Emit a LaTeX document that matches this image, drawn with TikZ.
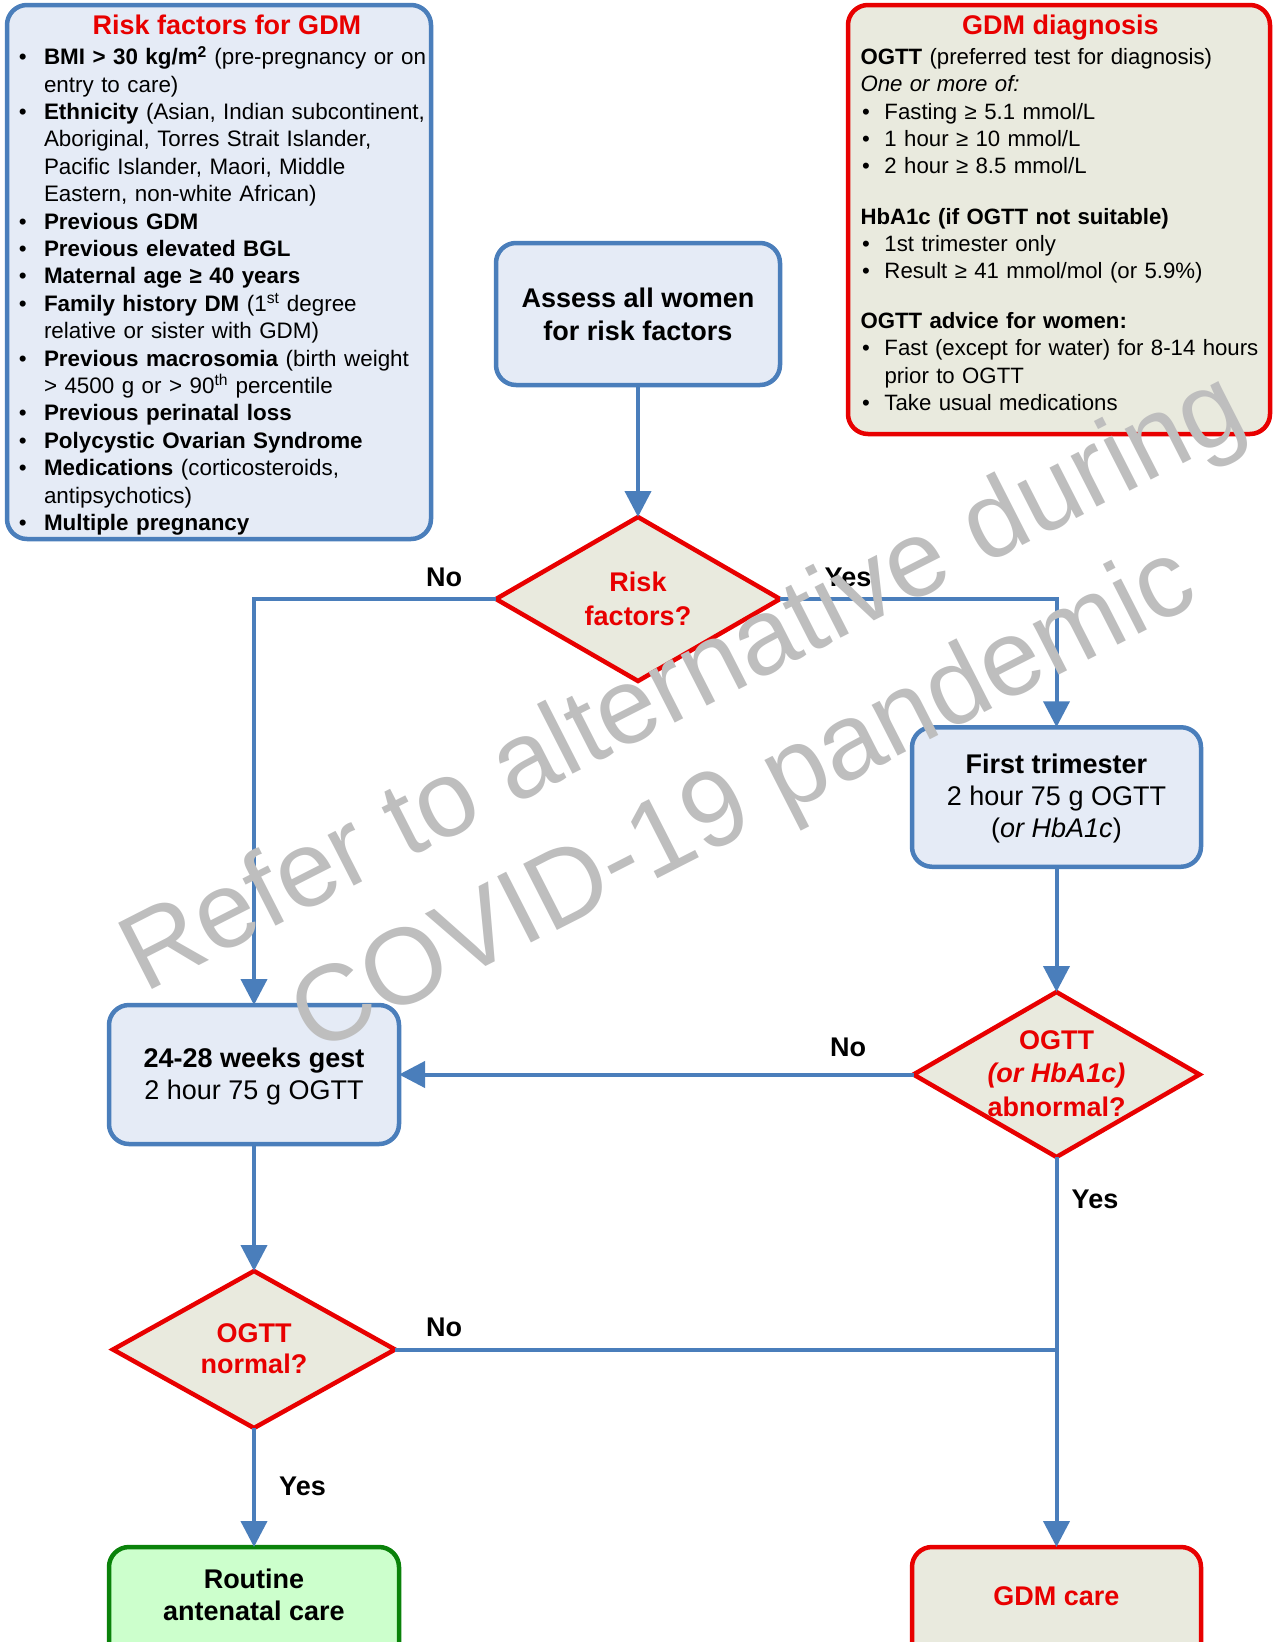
\documentclass[tikz,border=0pt]{standalone}
\usepackage{fontspec}
\setmainfont{Liberation Sans}
\usetikzlibrary{shapes.geometric,arrows.meta}
\definecolor{bblue}{RGB}{74,126,187}
\definecolor{lblue}{RGB}{229,235,246}
\definecolor{rred}{RGB}{232,0,0}
\definecolor{beige}{RGB}{233,234,222}
\definecolor{ggreen}{RGB}{10,130,10}
\definecolor{lgreen}{RGB}{204,255,204}
\definecolor{wmgray}{RGB}{190,190,190}
\newcommand\ctrlines[1]{\vtop{\halign{\hfil##\hfil\cr#1\crcr}}}
\newcommand\bul[2]{\hangindent=#1\hangafter=1\noindent\makebox[#1][l]{\hspace{#2}\textbullet}}
\begin{document}
\begin{tikzpicture}[x=1pt,y=-1pt,
  every node/.style={inner sep=0pt,outer sep=0pt},
  bbox/.style={draw=bblue,fill=lblue,line width=4.5pt,rounded corners=20pt},
  rbox/.style={draw=rred,fill=beige,line width=4.5pt,rounded corners=20pt},
  gbox/.style={draw=ggreen,fill=lgreen,line width=4.5pt,rounded corners=20pt},
  dmd/.style={diamond,draw=rred,fill=beige,line width=4.5pt},
  conn/.style={draw=bblue,line width=4pt},
  arr/.style={conn,-{Triangle[length=26pt,width=26pt]}},
  btxt/.style={anchor=base,font=\fontsize{27}{32.5}\selectfont},
  dtxt/.style={anchor=base,text=rred,font=\fontsize{27}{33.5}\selectfont\bfseries},
  lbl/.style={anchor=base,font=\fontsize{27}{32}\selectfont\bfseries},
  ttl/.style={anchor=base,text=rred,font=\fontsize{27}{32}\selectfont\bfseries},
  list/.style={anchor=base west,text width=440pt,align=left,font=\fontsize{22.4}{27.4}\selectfont},
  wm/.style={anchor=base,rotate=27,text=wmgray,font=\fontsize{108}{130}\selectfont}
]
\useasboundingbox (0,0) rectangle (1274,1642);
\clip (0,0) rectangle (1274,1642);

% boxes
\node[bbox,minimum width=424pt,minimum height=534pt] (riskbox) at (219,272) {};
\node[rbox,minimum width=422pt,minimum height=429pt] (diagbox) at (1059,219.5) {};
\node[bbox,minimum width=284pt,minimum height=142pt] (assess) at (638,314) {};
\node[bbox,minimum width=289pt,minimum height=139.5pt] (first) at (1056.5,797) {};
\node[bbox,minimum width=290pt,minimum height=139pt] (wk) at (254,1074.5) {};
\node[gbox,minimum width=290pt,minimum height=143pt] (routine) at (254,1618.5) {};
\node[rbox,minimum width=289pt,minimum height=143pt] (gdmcare) at (1056.5,1618.5) {};

% diamonds
\node[dmd,minimum width=284pt,minimum height=164pt] (risk) at (638,599) {};
\node[dmd,minimum width=286pt,minimum height=165pt] (abn) at (1056.5,1074.5) {};
\node[dmd,minimum width=282pt,minimum height=157pt] (norm) at (254,1349.5) {};

% connectors
\draw[arr] (assess.south) -- (risk.north);
\draw[arr] (risk.west) -| (wk.north);
\draw[arr] (risk.east) -| (first.north);
\draw[arr] (first.south) -- (abn.north);
\draw[arr] (abn.west) -- (wk.east);
\draw[arr] (abn.south) -- (gdmcare.north);
\coordinate (join) at (abn.south |- norm.east);
\draw[conn] (norm.east) -- (join);
\draw[arr] (wk.south) -- (norm.north);
\draw[arr] (norm.south) -- (routine.north);

% labels
\node[lbl] (l1) at (444,586.7) {No};
\node[lbl] (l2) at (848,586.7) {Yes};
\node[lbl] (l3) at (848,1056.7) {No};
\node[lbl] (l4) at (1095,1208.7) {Yes};
\node[lbl] (l5) at (444,1336.7) {No};
\node[lbl] (l6) at (302.5,1495.2) {Yes};

% box texts
\node[btxt,font=\fontsize{27}{33}\selectfont\bfseries] (assess-t) at (638,307) {\ctrlines{Assess all women\cr for risk factors}};
\node[btxt,font=\fontsize{27}{32}\selectfont] (first-t) at (1056.5,773.7) {\ctrlines{\textbf{First trimester}\cr 2 hour 75 g OGTT\cr (\textit{or HbA1c})}};
\node[btxt] (wk-t) at (254,1067) {\ctrlines{\textbf{24-28 weeks gest}\cr 2 hour 75 g OGTT}};
\node[btxt,font=\fontsize{27}{32.5}\selectfont\bfseries] (routine-t) at (254,1588) {\ctrlines{Routine\cr antenatal care}};
\node[dtxt] (gdmcare-t) at (1056.5,1605) {GDM care};
\node[dtxt] (risk-t) at (638,591.5) {\ctrlines{Risk\cr factors?}};
\node[dtxt] (abn-t) at (1056.5,1049) {\ctrlines{OGTT\cr \textit{(or HbA1c)}\cr abnormal?}};
\node[dtxt,font=\fontsize{27}{31.5}\selectfont\bfseries] (norm-t) at (254,1342) {\ctrlines{OGTT\cr normal?}};

% titles
\node[ttl] (riskbox-t) at (227,34.8) {Risk factors for GDM};
\node[ttl] (diagbox-t) at (1060.4,34.8) {GDM diagnosis};

% lists
\node[list] (risklist) at (19,64.6) {%
\bul{25pt}{0pt}\textbf{BMI > 30 kg/m\textsuperscript{2}} (pre-pregnancy or on\newline entry to care)\par
\bul{25pt}{0pt}\textbf{Ethnicity} (Asian, Indian subcontinent,\newline Aboriginal, Torres Strait Islander,\newline Pacific Islander, Maori, Middle\newline Eastern, non-white African)\par
\bul{25pt}{0pt}\textbf{Previous GDM}\par
\bul{25pt}{0pt}\textbf{Previous elevated BGL}\par
\bul{25pt}{0pt}\textbf{Maternal age ≥ 40 years}\par
\bul{25pt}{0pt}\textbf{Family history DM} (1\textsuperscript{st} degree\newline relative or sister with GDM)\par
\bul{25pt}{0pt}\textbf{Previous macrosomia} (birth weight\newline > 4500 g or > 90\textsuperscript{th} percentile\par
\bul{25pt}{0pt}\textbf{Previous perinatal loss}\par
\bul{25pt}{0pt}\textbf{Polycystic Ovarian Syndrome}\par
\bul{25pt}{0pt}\textbf{Medications} (corticosteroids,\newline antipsychotics)\par
\bul{25pt}{0pt}\textbf{Multiple pregnancy}\par};

\node[list,font=\fontsize{22.2}{27.2}\selectfont] (diaglist) at (860.5,64.6) {%
\noindent\textbf{OGTT} (preferred test for diagnosis)\par
\noindent\textit{One or more of:}\par
\bul{24pt}{1.5pt}Fasting ≥ 5.1 mmol/L\par
\bul{24pt}{1.5pt}1 hour ≥ 10 mmol/L\par
\bul{24pt}{1.5pt}2 hour ≥ 8.5 mmol/L\par
\vspace{23.5pt}
\noindent\textbf{HbA1c (if OGTT not suitable)}\par
\bul{24pt}{1.5pt}1st trimester only\par
\bul{24pt}{1.5pt}Result ≥ 41 mmol/mol (or 5.9\%)\par
\vspace{23pt}
\noindent\textbf{OGTT advice for women:}\par
\bul{24pt}{1.5pt}Fast (except for water) for 8-14 hours\newline prior to OGTT\par
\bul{24pt}{1.5pt}Take usual medications\par};

% watermark
\node[wm] (wm1) at (698,711) {Refer to alternative during};
\node[wm] (wm2) at (758,828) {COVID-19 pandemic};
\end{tikzpicture}
\end{document}
